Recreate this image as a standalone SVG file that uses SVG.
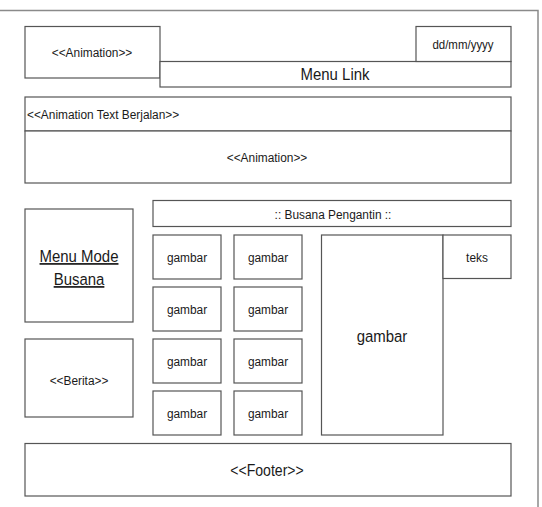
<svg xmlns="http://www.w3.org/2000/svg" width="542" height="507" viewBox="0 0 542 507">
<style>
.b{fill:#fff;stroke:#555;stroke-width:1.2}
.t{font-family:"Liberation Sans",Arial,sans-serif;fill:#1a1a1a;text-anchor:middle}
.l{text-anchor:start}
.s12{font-size:13.5px}
.s15{font-size:17px}
.s14{font-size:16px}
</style>
<rect width="542" height="507" fill="#fff"/>
<path d="M0,10.5 H538 V507" fill="none" stroke="#8a8a8a" stroke-width="1.5"/>
<g id="animation-top"><rect class="b" x="25" y="26.5" width="135" height="51.5"/><text class="t s12" transform="translate(92,56.5) scale(0.88,1)">&lt;&lt;Animation&gt;&gt;</text></g>
<g id="menu-link"><rect class="b" x="160" y="61.5" width="351" height="25.5"/><text class="t s15" transform="translate(335,80) scale(0.88,1)">Menu Link</text></g>
<g id="date"><rect class="b" x="416" y="26.5" width="95" height="35"/><text class="t s12" transform="translate(463,48.5) scale(0.85,1)">dd/mm/yyyy</text></g>
<g id="text-berjalan"><rect class="b" x="25" y="97" width="486" height="34"/><text class="t s12 l" transform="translate(27,118.5) scale(0.88,1)">&lt;&lt;Animation Text Berjalan&gt;&gt;</text></g>
<g id="animation-main"><rect class="b" x="25" y="131" width="486" height="52"/><text class="t s12" transform="translate(267,161.5) scale(0.88,1)">&lt;&lt;Animation&gt;&gt;</text></g>
<g id="busana-bar"><rect class="b" x="153" y="200.5" width="358" height="26"/><text class="t s12" transform="translate(333,218.5) scale(0.88,1)">:: Busana Pengantin ::</text></g>
<g id="menu-mode"><rect class="b" x="25" y="209" width="108" height="113"/><text class="t s15" transform="translate(79,262) scale(0.88,1)" text-decoration="underline">Menu Mode</text><text class="t s15" transform="translate(79,285) scale(0.88,1)" text-decoration="underline">Busana</text></g>
<g id="berita"><rect class="b" x="25" y="339" width="108" height="78"/><text class="t s12" transform="translate(79,384.5) scale(0.88,1)">&lt;&lt;Berita&gt;&gt;</text></g>
<g id="g11"><rect class="b" x="153" y="235" width="68" height="44"/><text class="t s12" transform="translate(187,261.5) scale(0.88,1)">gambar</text></g>
<g id="g12"><rect class="b" x="234" y="235" width="68" height="44"/><text class="t s12" transform="translate(268,261.5) scale(0.88,1)">gambar</text></g>
<g id="g21"><rect class="b" x="153" y="287" width="68" height="44"/><text class="t s12" transform="translate(187,313.5) scale(0.88,1)">gambar</text></g>
<g id="g22"><rect class="b" x="234" y="287" width="68" height="44"/><text class="t s12" transform="translate(268,313.5) scale(0.88,1)">gambar</text></g>
<g id="g31"><rect class="b" x="153" y="339" width="68" height="44"/><text class="t s12" transform="translate(187,365.5) scale(0.88,1)">gambar</text></g>
<g id="g32"><rect class="b" x="234" y="339" width="68" height="44"/><text class="t s12" transform="translate(268,365.5) scale(0.88,1)">gambar</text></g>
<g id="g41"><rect class="b" x="153" y="391" width="68" height="44"/><text class="t s12" transform="translate(187,417.5) scale(0.88,1)">gambar</text></g>
<g id="g42"><rect class="b" x="234" y="391" width="68" height="44"/><text class="t s12" transform="translate(268,417.5) scale(0.88,1)">gambar</text></g>
<g id="big-gambar"><rect class="b" x="321.5" y="235" width="121.5" height="200"/><text class="t s15" transform="translate(382,342) scale(0.88,1)">gambar</text></g>
<g id="teks"><rect class="b" x="443" y="235" width="68" height="43.5"/><text class="t s12" transform="translate(477,261.5) scale(0.88,1)">teks</text></g>
<g id="footer"><rect class="b" x="25" y="443.5" width="486" height="52.5"/><text class="t s14" transform="translate(267,476) scale(0.88,1)">&lt;&lt;Footer&gt;&gt;</text></g>
<g id="connectors"></g>
</svg>
